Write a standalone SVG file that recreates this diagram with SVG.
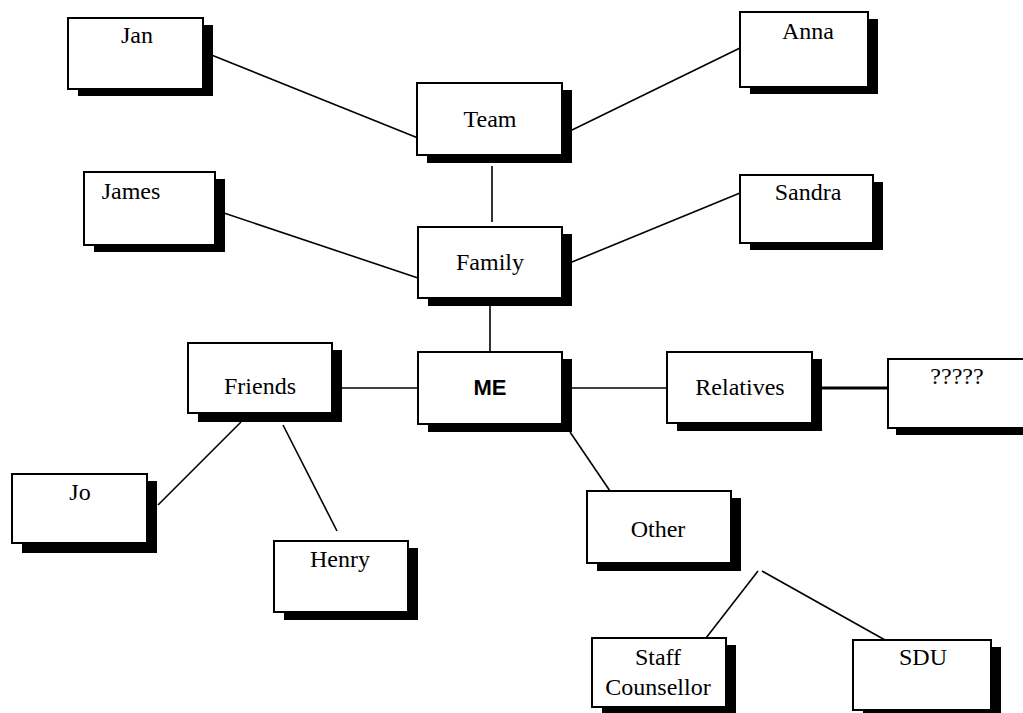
<svg xmlns="http://www.w3.org/2000/svg" width="1023" height="713" viewBox="0 0 1023 713">
<style>
.sh{fill:#000}
.bx{fill:#fff;stroke:#000;stroke-width:2}
.t{font-family:"Liberation Serif","Times New Roman",serif;font-size:24px;fill:#000;text-anchor:middle}
.b{font-family:"Liberation Sans",Arial,sans-serif;font-size:22px;font-weight:bold;fill:#000;text-anchor:middle}
.c line{stroke:#000;stroke-width:1.6}
</style>
<rect width="1023" height="713" fill="#fff"/>
<g class="c" id="connectors">
<line x1="204" y1="52" x2="418" y2="138"/>
<line x1="572" y1="130" x2="740" y2="48"/>
<line x1="492" y1="166" x2="492" y2="222"/>
<line x1="215" y1="210" x2="418" y2="278"/>
<line x1="572" y1="262" x2="740" y2="193"/>
<line x1="490" y1="306" x2="490" y2="352"/>
<line x1="342" y1="388" x2="418" y2="388"/>
<line x1="572" y1="388" x2="667" y2="388"/>
<line x1="822" y1="388" x2="888" y2="388" style="stroke-width:3"/>
<line x1="241" y1="422" x2="158" y2="505"/>
<line x1="283" y1="425" x2="337" y2="531"/>
<line x1="570" y1="432" x2="610" y2="491"/>
<line x1="758" y1="571" x2="706" y2="638"/>
<line x1="762" y1="571" x2="885" y2="640"/>
</g>
<g id="jan"><rect class="sh" x="78" y="25" width="135" height="71"/><rect class="bx" x="68" y="18" width="135" height="71"/><text class="t" x="137" y="43">Jan</text></g>
<g id="anna"><rect class="sh" x="750" y="19" width="128" height="75"/><rect class="bx" x="740" y="12" width="128" height="75"/><text class="t" x="808" y="39">Anna</text></g>
<g id="team"><rect class="sh" x="427" y="90" width="145" height="73"/><rect class="bx" x="417" y="83" width="145" height="72"/><text class="t" x="490" y="127">Team</text></g>
<g id="james"><rect class="sh" x="94" y="179" width="131" height="73"/><rect class="bx" x="84" y="172" width="131" height="73"/><text class="t" x="131" y="199">James</text></g>
<g id="sandra"><rect class="sh" x="750" y="182" width="133" height="68"/><rect class="bx" x="740" y="175" width="133" height="68"/><text class="t" x="808" y="200">Sandra</text></g>
<g id="family"><rect class="sh" x="428" y="234" width="144" height="72"/><rect class="bx" x="418" y="227" width="144" height="71"/><text class="t" x="490" y="270">Family</text></g>
<g id="me"><rect class="sh" x="428" y="359" width="144" height="73"/><rect class="bx" x="418" y="352" width="144" height="72"/><text class="b" x="490" y="395">ME</text></g>
<g id="friends"><rect class="sh" x="198" y="350" width="144" height="72"/><rect class="bx" x="188" y="343" width="144" height="70"/><text class="t" x="260" y="394">Friends</text></g>
<g id="relatives"><rect class="sh" x="677" y="359" width="145" height="72"/><rect class="bx" x="667" y="352" width="145" height="71"/><text class="t" x="740" y="395">Relatives</text></g>
<g id="unknown"><rect class="sh" x="896" y="366" width="140" height="69"/><rect class="bx" x="888" y="359" width="145" height="69"/><text class="t" x="957" y="384">?????</text></g>
<g id="jo"><rect class="sh" x="22" y="481" width="135" height="72"/><rect class="bx" x="12" y="474" width="135" height="69"/><text class="t" x="80" y="500">Jo</text></g>
<g id="henry"><rect class="sh" x="284" y="548" width="134" height="72"/><rect class="bx" x="274" y="541" width="134" height="71"/><text class="t" x="340" y="567">Henry</text></g>
<g id="other"><rect class="sh" x="597" y="498" width="144" height="73"/><rect class="bx" x="587" y="491" width="144" height="72"/><text class="t" x="658" y="537">Other</text></g>
<g id="staff"><rect class="sh" x="602" y="645" width="134" height="68"/><rect class="bx" x="592" y="638" width="134" height="69"/><text class="t" x="658" y="665">Staff</text><text class="t" x="658" y="695">Counsellor</text></g>
<g id="sdu"><rect class="sh" x="863" y="647" width="138" height="66"/><rect class="bx" x="853" y="640" width="138" height="70"/><text class="t" x="923" y="665">SDU</text></g>
</svg>
